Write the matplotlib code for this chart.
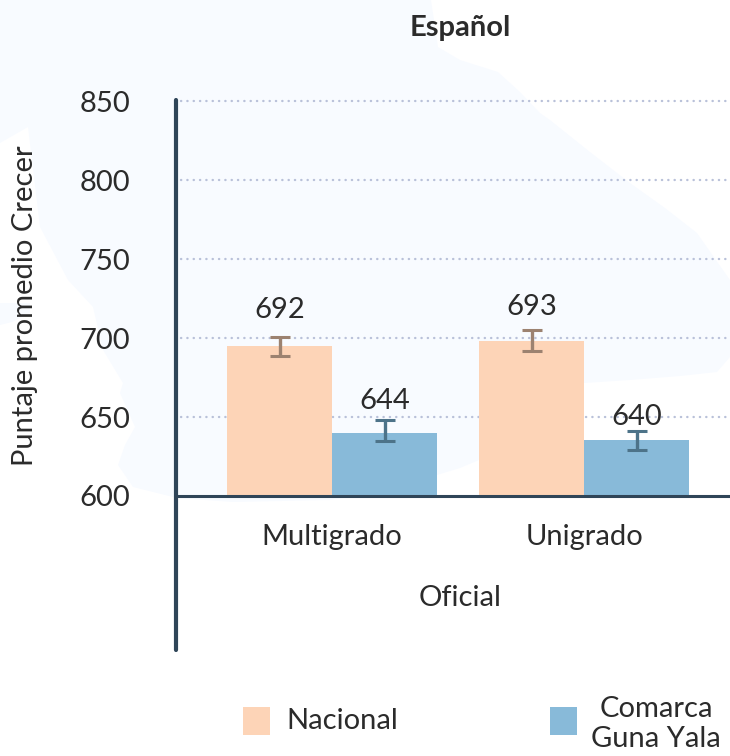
from __future__ import annotations

import matplotlib.pyplot as plt
from matplotlib.patches import Polygon, Rectangle

W, H = 730, 756

categories = ["Multigrado", "Unigrado"]
nacional = [695, 698]
comarca = [640, 635.5]
nacional_low = [688.5, 692]
nacional_high = [701, 705]
comarca_low = [635, 629]
comarca_high = [648, 641]
nacional_labels = ["692", "693"]
comarca_labels = ["644", "640"]
nacional_label_y = [717.5, 720]
comarca_label_y = [660, 650]
y_ticks = [600, 650, 700, 750, 800, 850]

# faint map behind the chart, figure pixels
map_outline = [
    (0, 0), (431, 0), (438, 47), (460, 60), (498, 72), (520, 92), (540, 113),
    (550, 120), (590, 152), (630, 183), (665, 208), (697, 233), (730, 280),
    (730, 357), (717, 372), (680, 376), (630, 380), (584, 383), (540, 420),
    (479, 460), (460, 468), (437, 475), (380, 492), (330, 500), (233, 502),
    (177, 498), (133, 487), (118, 465), (125, 445), (135, 427), (120, 393),
    (123, 383), (103, 350), (93, 307), (68, 280), (40, 227), (28, 127), (0, 143),
]
map_island = [(0, 303), (30, 303), (30, 313), (12, 322), (0, 325)]

PEACH = "#fdd4b7"
BLUE = "#88bad9"
PEACH_ERR = "#9c8270"
BLUE_ERR = "#4d7389"
AXIS = "#2f4558"
GRID = "#b9c1d9"
TEXT = "#2b2b2b"
MAP = "#f8fbff"

plt.rcParams["font.family"] = ["Lato", "DejaVu Sans"]
FS = 21


def fx(px: float) -> float:
    return px / W


def fy(py: float) -> float:
    return 1 - py / H


fig = plt.figure(figsize=(W / 100, H / 100), dpi=100, facecolor="white")
for outline in (map_outline, map_island):
    fig.add_artist(
        Polygon([(fx(x), fy(y)) for x, y in outline], closed=True, transform=fig.transFigure,
                facecolor=MAP, edgecolor="none", zorder=0)
    )

# axes span the full spine, 600 sits above its lower end
top_px, bottom_px, left_px = 100, 650, 176
ax = fig.add_axes([fx(left_px), fy(bottom_px), fx(W - left_px), (bottom_px - top_px) / H])
ax.patch.set_alpha(0)
px_per_unit = 1.579
ax.set_ylim(600 - (bottom_px - 496) / px_per_unit, 600 + (496 - top_px) / px_per_unit)
ax.set_xlim(-(332 - left_px) / 252, (W - 332) / 252)

width = 105 / 252
x = list(range(len(categories)))
x_nac = [xi - width / 2 for xi in x]
x_com = [xi + width / 2 for xi in x]

ax.hlines(y_ticks[1:], 5 / (W - left_px), 1, transform=ax.get_yaxis_transform(), color=GRID,
          linewidth=1.7, linestyle=(0, (0.1, 2.58)), capstyle="round", zorder=1, clip_on=False)
ax.bar(x_nac, [v - 600 for v in nacional], bottom=600, width=width, color=PEACH, zorder=2)
ax.bar(x_com, [v - 600 for v in comarca], bottom=600, width=width, color=BLUE, zorder=2)
ax.axhline(600, color=AXIS, linewidth=2.2, zorder=3)


def draw_errors(xs, lows, highs, color):
    mids = [(lo + hi) / 2 for lo, hi in zip(lows, highs)]
    errs = [(hi - lo) / 2 for lo, hi in zip(lows, highs)]
    ax.errorbar(xs, mids, yerr=errs, fmt="none", ecolor=color, elinewidth=2.4, capsize=6.9,
                capthick=2.2, zorder=4)


draw_errors(x_nac, nacional_low, nacional_high, PEACH_ERR)
draw_errors(x_com, comarca_low, comarca_high, BLUE_ERR)

for xi, y, label in zip(x_nac + x_com, nacional_label_y + comarca_label_y, nacional_labels + comarca_labels):
    ax.text(xi, y, label, ha="center", va="center", fontsize=FS, color=TEXT, zorder=5)

for spine in ("top", "right", "bottom"):
    ax.spines[spine].set_visible(False)
ax.spines["left"].set_linewidth(3)
ax.spines["left"].set_color(AXIS)
ax.spines["left"].set_capstyle("round")
ax.spines["left"].set_zorder(6)

ax.set_yticks(y_ticks)
ax.set_yticklabels([str(t) for t in y_ticks], fontsize=FS, color=TEXT)
ax.tick_params(axis="y", length=0, pad=33)
ax.set_xticks([])

for xi, label in zip(x, categories):
    ax.annotate(label, (xi, 600), xytext=(0, -41 * 0.72), textcoords="offset points",
                ha="center", va="center", fontsize=FS, color=TEXT)

fig.text(fx(460), fy(598), "Oficial", ha="center", va="center", fontsize=FS, color=TEXT)
fig.text(fx(25), fy(306), "Puntaje promedio Crecer", rotation=90, ha="center", va="center",
         fontsize=FS, color=TEXT)
fig.text(fx(460), fy(28), "Español", ha="center", va="center", fontsize=FS, fontweight="bold",
         color=TEXT)

# legend
fig.add_artist(Rectangle((fx(243), fy(735)), 27 / W, 28 / H, transform=fig.transFigure, facecolor=PEACH,
                         edgecolor="none"))
fig.add_artist(Rectangle((fx(550), fy(735)), 27 / W, 28 / H, transform=fig.transFigure, facecolor=BLUE,
                         edgecolor="none"))
fig.text(fx(286), fy(721), "Nacional", ha="left", va="center", fontsize=FS, color=TEXT)
fig.text(fx(656), fy(724), "Comarca\nGuna Yala", ha="center", va="center", multialignment="center",
         fontsize=FS, color=TEXT, linespacing=1.15)

fig.savefig("out.png", dpi=100)
